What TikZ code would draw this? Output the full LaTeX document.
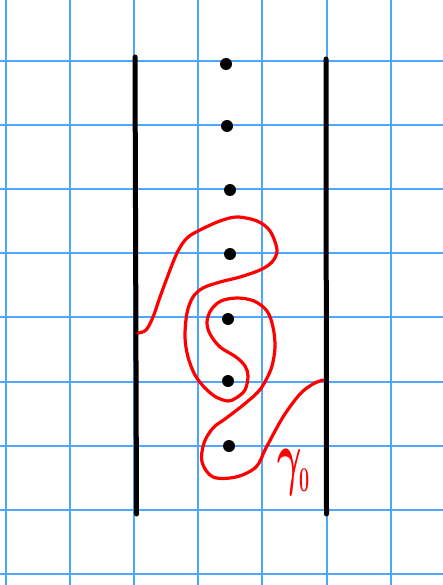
\documentclass[tikz,border=0pt]{standalone}
\usepackage{bm}
\begin{document}
\begin{tikzpicture}[x=1pt,y=-1pt,
  gridline/.style={line width=2pt,draw={rgb,255:red,77;green,166;blue,255}},
  wall/.style={line width=5pt,line cap=round,black},
  curve/.style={line width=3.2pt,red,line cap=round,line join=round},
  puncture/.style={black}]
\useasboundingbox (0,0) rectangle (443,585);
\fill[white] (0,0) rectangle (443,585);
% grid
\foreach \i in {0,...,6} \draw[gridline] ({5.5+64.2*\i},0) -- ({5.5+64.2*\i},585);
\foreach \j in {0,...,8} \draw[gridline] (0,{61+64.1*\j}) -- (443,{61+64.1*\j});
% walls
\draw[wall] (135,57) -- (136.5,514);
\draw[wall] (326,59) -- (326.5,514);
% punctures
\foreach \y/\x in {64/226,126/227,190/230,254/230,319/228,381/228,446/229}
  \fill[puncture] (\x,\y) circle (6);
% curve
\draw[curve] plot[smooth,tension=0.55] coordinates {
(138,333) (146,330) (153,317) (160,297) (170,270) (178,251) (187,238) (200,230)
(220,221) (237,217) (257,221) (270,231) (277,250) (272,262) (260,270) (240,277)
(220,282) (203,288) (193,297) (187,313) (185,337) (188,357) (195,375) (205,388)
(216,397) (228,401) (236,398) (245,390) (248,376) (245,366) (236,357) (220,347)
(210,334) (207,322) (211,310) (221,301) (237,298) (254,301) (267,311) (273,327)
(275,347) (272,366) (266,380) (258,392) (242,406) (225,419) (213,428) (204,443)
(202,462) (213,477) (236,477) (256,467) (266,448) (283,417) (300,394) (313,384) (323,380)};
% label
\node[red,anchor=base west,inner sep=0,xscale=1.5,yscale=2.9] (lab) at (277,481)
  {\Huge$\bm{\gamma}_{\mbox{\large\bfseries 0}}$};
\end{tikzpicture}
\end{document}
